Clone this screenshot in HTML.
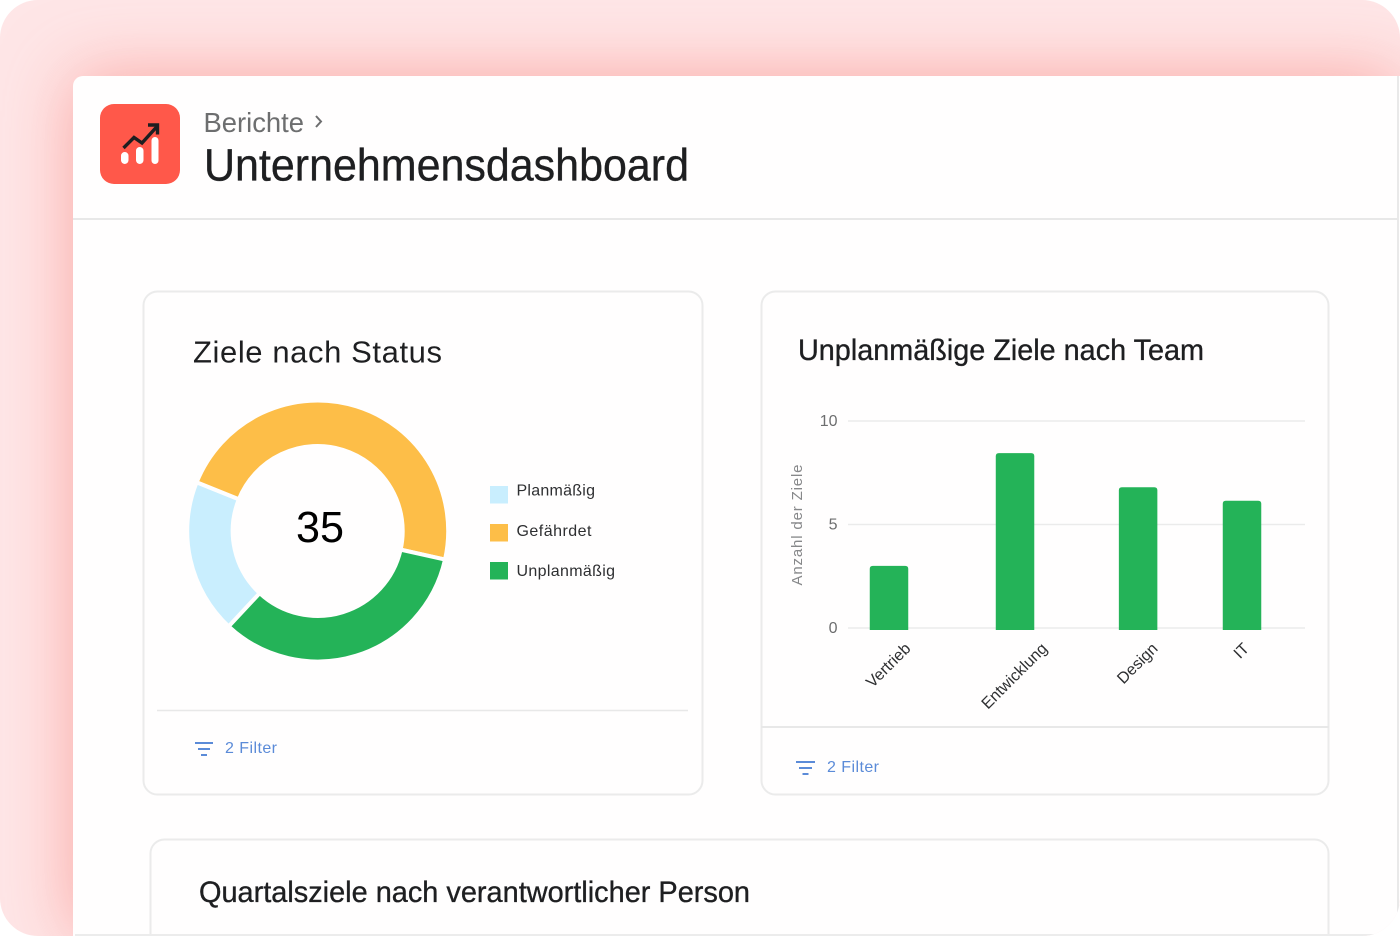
<!DOCTYPE html>
<html lang="de">
<head>
<meta charset="utf-8">
<title>Unternehmensdashboard</title>
<style>
html,body{margin:0;padding:0;width:1400px;height:936px;background:#fff;overflow:hidden}
#frame{position:absolute;left:0;top:0;width:1400px;height:936px;border-radius:38px;overflow:hidden;background:#fee6e7}
#panel{position:absolute;left:73px;top:76px;width:1327px;height:860px;background:#fffefe;border-top-left-radius:10px;box-shadow:0 0 70px 0 rgba(250,110,100,.52)}
#panel-right-line{position:absolute;left:1397px;top:76px;width:2px;height:860px;background:#e9e9e9}
#panel-bottom-line{position:absolute;left:75px;top:934px;width:1325px;height:2px;background:#ececec}
#scene{position:absolute;left:0;top:0;width:1400px;height:936px}
text{font-family:"Liberation Sans",sans-serif}
.heavy{stroke:#1e1f21;stroke-width:.35px}
</style>
</head>
<body>
<div id="frame">
  <div id="panel"></div>
  <div id="panel-right-line"></div>
  <svg id="scene" viewBox="0 0 1400 936" xmlns="http://www.w3.org/2000/svg">
    <line x1="73" y1="219" x2="1398" y2="219" stroke="#e8e8e8" stroke-width="2"/>

    <g>
      <rect x="100" y="104" width="80" height="80" rx="14" fill="#ff584a"/>
      <rect x="121" y="152" width="7.5" height="12" rx="3.7" fill="#fff"/>
      <rect x="136" y="147" width="7.5" height="17" rx="3.7" fill="#fff"/>
      <rect x="151.5" y="137" width="7" height="27" rx="3.5" fill="#fff"/>
      <polyline points="123.5,148 134,137.5 142,143 157,126.5" fill="none" stroke="#1e1e20" stroke-width="3.4"/>
      <polyline points="148,125 157.5,125 157.5,134.5" fill="none" stroke="#1e1e20" stroke-width="3.4"/>
    </g>

    <text x="203.5" y="132" font-size="28" fill="#6d6e6f" textLength="100.5" lengthAdjust="spacingAndGlyphs">Berichte</text>
    <polyline points="316,116 321,121.5 316,127" fill="none" stroke="#6d6e6f" stroke-width="2"/>
    <text class="heavy" x="204" y="180.5" font-size="45" fill="#1e1f21" textLength="485" lengthAdjust="spacingAndGlyphs">Unternehmensdashboard</text>

    <rect x="143.5" y="291.5" width="559" height="503" rx="14" fill="#fffefe" stroke="#ebebeb" stroke-width="2"/>
    <text x="193" y="362.5" font-size="31" fill="#1e1f21" textLength="249" lengthAdjust="spacing">Ziele nach Status</text>
    <g id="donut"></g>
    <text id="donut-total" x="320" y="542" font-size="44" fill="#000" text-anchor="middle" textLength="48" lengthAdjust="spacingAndGlyphs"></text>
    <g id="legend"></g>
    <line x1="157" y1="710.5" x2="688" y2="710.5" stroke="#e8e8e8" stroke-width="1.5"/>
    <g>
      <g stroke="#5b8bd8" stroke-width="2">
        <line x1="195" y1="743" x2="213" y2="743"/>
        <line x1="198" y1="749" x2="210" y2="749"/>
        <line x1="201" y1="755" x2="207" y2="755"/>
      </g>
      <text x="225" y="753" font-size="16" fill="#5b8bd8" textLength="52" lengthAdjust="spacing">2 Filter</text>
    </g>

    <rect x="761.5" y="291.5" width="567" height="503" rx="14" fill="#fffefe" stroke="#ebebeb" stroke-width="2"/>
    <text class="heavy" x="798" y="360" font-size="30" fill="#1e1f21" textLength="406" lengthAdjust="spacingAndGlyphs">Unplanmäßige Ziele nach Team</text>
    <g id="bar-chart"></g>
    <text transform="translate(802,525) rotate(-90)" font-size="15" fill="#87888a" text-anchor="middle" textLength="121" lengthAdjust="spacing">Anzahl der Ziele</text>
    <line x1="761" y1="727" x2="1329" y2="727" stroke="#e8e8e8" stroke-width="2"/>
    <g>
      <g stroke="#5b8bd8" stroke-width="2">
        <line x1="796" y1="762" x2="815" y2="762"/>
        <line x1="799" y1="768" x2="812" y2="768"/>
        <line x1="802.5" y1="774" x2="808.5" y2="774"/>
      </g>
      <text x="827" y="772" font-size="16" fill="#5b8bd8" textLength="52" lengthAdjust="spacing">2 Filter</text>
    </g>

    <rect x="150.5" y="839.5" width="1178" height="140" rx="14" fill="#fffefe" stroke="#ebebeb" stroke-width="2"/>
    <text class="heavy" x="199" y="902" font-size="30" fill="#1e1f21" textLength="551" lengthAdjust="spacingAndGlyphs">Quartalsziele nach verantwortlicher Person</text>
  </svg>
  <div id="panel-bottom-line"></div>
</div>

<script>
/* Donut data */
const statusLabels = ["Planmäßig", "Gefährdet", "Unplanmäßig"];
const statusValues = [6.7, 16.6, 11.7];

/* Bar chart data */
const teamCategories = ["Vertrieb", "Entwicklung", "Design", "IT"];
const teamValues = [3.0, 8.45, 6.8, 6.15];
const yTickLabels = [0, 5, 10];

const SVG_NS = "http://www.w3.org/2000/svg";
function make(tag, parent, attrs, text) {
  const el = document.createElementNS(SVG_NS, tag);
  for (const k in attrs) el.setAttribute(k, attrs[k]);
  if (text !== undefined) el.textContent = text;
  parent.appendChild(el);
  return el;
}

/* ---------- Donut ---------- */
function drawDonut() {
  const colors = ["#c9eefe", "#fdbe48", "#24b358"];
  const cx = 317.7, cy = 531, R = 130.5, r = 85;
  const startDeg = 223;
  const total = statusValues.reduce(function (a, b) { return a + b; }, 0);
  const group = document.getElementById("donut");
  const polar = function (rad, deg) {
    const a = (deg - 90) * Math.PI / 180;
    return (cx + rad * Math.cos(a)).toFixed(2) + " " + (cy + rad * Math.sin(a)).toFixed(2);
  };
  let angle = startDeg;
  statusValues.forEach(function (v, i) {
    const sweep = v / total * 360;
    const end = angle + sweep;
    const large = sweep > 180 ? 1 : 0;
    const d = "M" + polar(R, angle) + " A" + R + " " + R + " 0 " + large + " 1 " + polar(R, end) +
      " L" + polar(r, end) + " A" + r + " " + r + " 0 " + large + " 0 " + polar(r, angle) + " Z";
    const slice = make("path", group, { d: d, fill: colors[i], stroke: "#fffefe", "stroke-width": 4, "stroke-linejoin": "miter" });
    
    
    angle = end;
  });
  document.getElementById("donut-total").textContent = Math.round(total);

  const legend = document.getElementById("legend");
  const widths = [78.5, 75, 98.5];
  statusLabels.forEach(function (label, i) {
    const top = 486 + i * 38;
    const swatch = make("rect", legend, { x: 490, y: top, width: 18, height: 17.5, fill: colors[i] });
    
    
    const t = make("text", legend, {
      x: 516.5, y: [495.5, 536, 576][i], "font-size": 16, fill: "#2e2f31",
      textLength: widths[i], lengthAdjust: "spacing"
    }, label);
    
    
  });
}

/* ---------- Bars ---------- */
function yScale(v) { return 628 - v * 20.7; }
function xScale(i) {
  const spacing = [0, 1.071, 1.046, 0.883];
  let pos = 0;
  for (let k = 0; k <= i; k++) pos += spacing[k];
  return 889 + pos * 117.67;
}
function drawBars() {
  const g = document.getElementById("bar-chart");
  const bw = 38.5;
  const base = yScale(0) + 2;
  yTickLabels.forEach(function (tick) {
    const y = yScale(tick);
    const line = make("line", g, { x1: 848, x2: 1305, y1: y, y2: y, stroke: "#ebebeb", "stroke-width": 1.5 });
    
    
    const label = make("text", g, { x: 837.5, y: y + 5, "font-size": 16, fill: "#6d6e6f", "text-anchor": "end" }, tick);
    
    
  });
  teamCategories.forEach(function (name, i) {
    const cx = xScale(i);
    const top = yScale(teamValues[i]);
    const x0 = cx - bw / 2, x1 = cx + bw / 2, rad = 3;
    const d = "M" + x0 + " " + base + " V" + (top + rad) + " Q" + x0 + " " + top + " " + (x0 + rad) + " " + top +
      " H" + (x1 - rad) + " Q" + x1 + " " + top + " " + x1 + " " + (top + rad) + " V" + base + " Z";
    const bar = make("path", g, { d: d, fill: "#24b358" });
    
    
    const label = make("text", g, { x: cx, y: 650, "font-size": 16, fill: "#2e2f31", "text-anchor": "middle" }, name);
    
    
    const len = label.getComputedTextLength();
    const lx = cx + 3;
    const ly = 643 + len * 0.7071 / 2 + 6.5;
    label.setAttribute("x", lx);
    label.setAttribute("y", ly);
    label.setAttribute("transform", "rotate(-45 " + lx + " " + ly + ")");
  });
}

drawDonut();
drawBars();
</script>
</body>
</html>
